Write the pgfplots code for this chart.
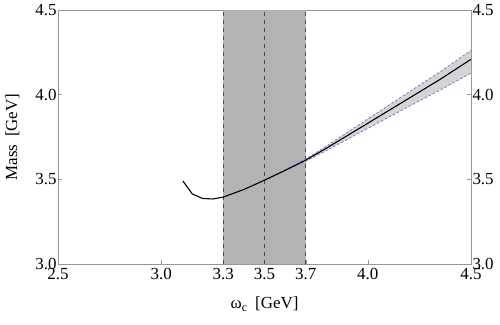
\documentclass[border=0pt]{standalone}
\usepackage{fontspec}
\setmainfont{Liberation Serif}
\usepackage{pgfplots}
\pgfplotsset{compat=1.18}
\definecolor{axgray}{RGB}{150,150,150}
\definecolor{bandgray}{RGB}{179,179,179}
\definecolor{errgray}{RGB}{212,212,212}
\definecolor{dashgray}{RGB}{75,75,75}
\definecolor{edgeblue}{RGB}{105,105,225}
\begin{document}
\begin{tikzpicture}
\useasboundingbox (-58bp,-61bp) rectangle (442bp,264bp);
\begin{axis}[
  scale only axis, width=413bp, height=254bp,
  xmin=2.5, xmax=4.5, ymin=3.0, ymax=4.5,
  xtick={2.5,3.0,3.3,3.5,3.7,4.0,4.5},
  ytick={3.0,3.5,4.0,4.5},
  xtick pos=bottom, ytick pos=left,
  tick align=inside,
  major tick length=4bp,
  axis line style={axgray},
  every tick/.style={axgray, line width=0.5pt},
  /pgf/number format/assume math mode=true,
  /pgf/number format/fixed, /pgf/number format/fixed zerofill, /pgf/number format/precision=1,
  tick label style={font=\fontsize{17}{19}\selectfont, black},
  xticklabel style={yshift=-1bp},
  yticklabel style={xshift=2bp},
  label style={font=\fontsize{17}{19}\selectfont},
  xlabel={ω\textsubscript{c}\hspace{0.45em}[GeV]},
  ylabel={Mass\hspace{0.45em}[GeV]},
  xlabel style={yshift=-10bp},
  ylabel style={yshift=9bp},
  clip=true,
]
\addplot[fill=bandgray, draw=none] coordinates {(3.3,3.0) (3.7,3.0) (3.7,4.5) (3.3,4.5)} -- cycle;
\addplot[dashgray, line width=1pt, dash pattern=on 4bp off 4bp] coordinates {(3.3,3.0) (3.3,4.5)};
\addplot[dashgray, line width=1pt, dash pattern=on 4bp off 4bp] coordinates {(3.5,3.0) (3.5,4.5)};
\addplot[dashgray, line width=1pt, dash pattern=on 4bp off 4bp] coordinates {(3.7,3.0) (3.7,4.5)};
% error band
\addplot[fill=errgray, draw=none] coordinates {
 (3.55,3.524) (3.7,3.620) (3.8,3.696) (4.0,3.856) (4.2,4.016) (4.35,4.135) (4.5,4.261)
 (4.5,4.127) (4.35,4.027) (4.2,3.931) (4.0,3.801) (3.8,3.670) (3.7,3.607) (3.55,3.524)} -- cycle;
\addplot[edgeblue, line width=0.7pt, dash pattern=on 2.5bp off 2bp] coordinates {
 (3.5,3.495) (3.55,3.524) (3.7,3.620) (3.8,3.696) (4.0,3.856) (4.2,4.016) (4.35,4.135) (4.5,4.261)};
\addplot[edgeblue, line width=0.7pt, dash pattern=on 2.5bp off 2bp] coordinates {
 (3.5,3.495) (3.55,3.524) (3.7,3.607) (3.8,3.670) (4.0,3.801) (4.2,3.931) (4.35,4.027) (4.5,4.127)};
% central curve
\addplot[black, line width=1.1pt] coordinates {
 (3.105,3.490) (3.15,3.414) (3.2,3.387) (3.25,3.384) (3.3,3.395) (3.4,3.440)
 (3.5,3.495) (3.6,3.553) (3.7,3.614) (3.8,3.684) (4.0,3.831) (4.2,3.979) (4.35,4.090) (4.5,4.209)};
\end{axis}
\begin{axis}[
  scale only axis, width=413bp, height=254bp,
  xmin=2.5, xmax=4.5, ymin=3.0, ymax=4.5,
  hide x axis,
  axis y line*=right,
  ytick={3.0,3.5,4.0,4.5},
  tick align=inside,
  major tick length=4bp,
  axis line style={axgray, -},
  every tick/.style={axgray, line width=0.5pt},
  /pgf/number format/assume math mode=true,
  /pgf/number format/fixed, /pgf/number format/fixed zerofill, /pgf/number format/precision=1,
  tick label style={font=\fontsize{17}{19}\selectfont, black},
  yticklabel style={xshift=-2bp},
]
\end{axis}
\end{tikzpicture}
\end{document}
